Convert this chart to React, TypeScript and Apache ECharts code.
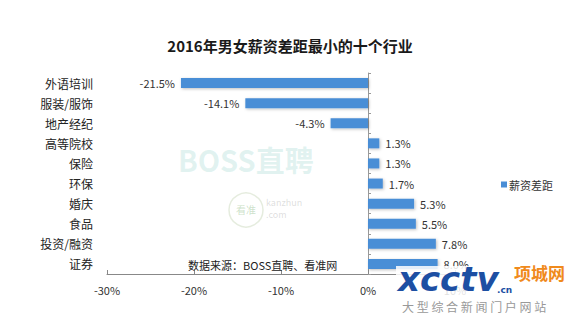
import React, { useEffect, useRef } from "react";
import * as echarts from "echarts";

const categories = ["外语培训", "服装/服饰", "地产经纪", "高等院校", "保险", "环保", "婚庆", "食品", "投资/融资", "证券"];
const gapValues = [-21.5, -14.1, -4.3, 1.3, 1.3, 1.7, 5.3, 5.5, 7.8, 8.0];
const xTicks = [-30, -20, -10, 0, 10];
const seriesName = "薪资差距";
const titleText = "2016年男女薪资差距最小的十个行业";
const sourceText = "数据来源：BOSS直聘、看准网";

export default function App() {
  const ref = useRef<HTMLDivElement>(null);
  useEffect(() => {
    if (!ref.current) return;
    const chart = echarts.init(ref.current, null, { renderer: "svg" });
    const font = "'Noto Sans CJK SC', 'Microsoft YaHei', sans-serif";
    chart.setOption({
      animation: false,
      backgroundColor: "#ffffff",
      textStyle: { fontFamily: font },
      title: {
        text: titleText,
        left: "center",
        top: 33,
        textStyle: { fontSize: 15, fontWeight: "bold", color: "#1a1a1a", fontFamily: font },
      },
      legend: {
        data: [seriesName],
        left: 496,
        top: 174,
        itemWidth: 6,
        itemHeight: 6,
        icon: "rect",
        itemGap: 2,
        textStyle: { fontSize: 11, color: "#333", fontFamily: font, padding: [0, 0, 0, -3] },
      },
      grid: { left: 107, right: 125, top: 73, bottom: 48 },
      xAxis: {
        type: "value",
        min: xTicks[0],
        max: xTicks[xTicks.length - 1],
        interval: 10,
        position: "bottom",
        axisLine: { show: true, onZero: false, lineStyle: { color: "#888", width: 1 } },
        axisTick: { show: true, inside: true, length: 4, lineStyle: { color: "#888" } },
        splitLine: { show: false },
        axisLabel: {
          formatter: (v: number) => (v < 0 ? "-" + Math.abs(v) + "%" : v + "%"),
          fontSize: 11,
          color: "#333",
          margin: 10,
        },
      },
      yAxis: [
        {
          type: "category",
          data: categories,
          inverse: true,
          axisLine: { show: false, onZero: false },
          axisTick: { show: false },
          axisLabel: { fontSize: 12, color: "#222", margin: 14 },
        },
        {
          type: "category",
          data: categories,
          inverse: true,
          axisLine: { show: true, onZero: true, lineStyle: { color: "#999", width: 1 } },
          axisTick: { show: true, length: 3, lineStyle: { color: "#999" } },
          axisLabel: { show: false },
        },
      ],
      series: [
        {
          name: seriesName,
          type: "bar",
          yAxisIndex: 0,
          data: gapValues.map((v) => ({
            value: v,
            label: {
              show: true,
              position: v < 0 ? "left" : "right",
              formatter: v.toFixed(1) + "%",
              fontSize: 11,
              color: "#333",
              distance: 6,
            },
          })),
          barWidth: 10,
          itemStyle: {
            color: "#4a8ed6",
            shadowColor: "rgba(0,0,0,0.25)",
            shadowBlur: 3,
            shadowOffsetX: 1,
            shadowOffsetY: 1,
          },
        },
      ],
      graphic: [
        {
          type: "text",
          left: 178,
          top: 144,
          z: 0,
          style: { text: "BOSS直聘", fontSize: 29, fontWeight: "bold", fill: "rgba(120,200,190,0.22)", fontFamily: font },
        },
        {
          type: "circle",
          shape: { cx: 246, cy: 210, r: 17 },
          z: 0,
          style: { fill: "none", stroke: "rgba(180,200,160,0.35)", lineWidth: 1.5 },
        },
        {
          type: "text",
          left: 236,
          top: 204,
          z: 0,
          style: { text: "看准", fontSize: 10, fill: "rgba(130,180,120,0.4)", fontFamily: font },
        },
        {
          type: "text",
          left: 266,
          top: 196,
          z: 0,
          style: { text: "kanzhun\n.com", fontSize: 9, lineHeight: 12, fill: "rgba(160,160,160,0.35)", fontFamily: font },
        },
        {
          type: "text",
          left: 188,
          top: 259,
          z: 10,
          style: { text: sourceText, fontSize: 11, fill: "#222", fontFamily: font },
        },
        {
          type: "rect",
          shape: { x: 396, y: 266, width: 184, height: 56 },
          z: 20,
          style: { fill: "rgba(255,255,255,0.85)" },
        },
        {
          type: "text",
          left: 398,
          top: 262,
          z: 21,
          style: { text: "xcctv", fontSize: 34, fontWeight: "bold", fontStyle: "italic", fill: "#1d4fa3", fontFamily: "DejaVu Sans" },
        },
        {
          type: "text",
          left: 514,
          top: 264,
          z: 21,
          style: { text: "项城网", fontSize: 17, fontWeight: "bold", fill: "#f08a1c", fontFamily: font },
        },
        {
          type: "text",
          left: 497,
          top: 285,
          z: 21,
          style: { text: ".cn", fontSize: 9, fontWeight: "bold", fill: "#1d4fa3", fontFamily: "DejaVu Sans" },
        },
        {
          type: "text",
          left: 402,
          top: 300,
          z: 21,
          style: { text: "大 型 综 合 新 闻 门 户 网 站", fontSize: 12, fill: "#999", fontFamily: font },
        },
      ],
    });
    return () => chart.dispose();
  }, []);
  return <div ref={ref} style={{ width: 580, height: 322, position: "absolute", left: 0, top: 0 }} />;
}
